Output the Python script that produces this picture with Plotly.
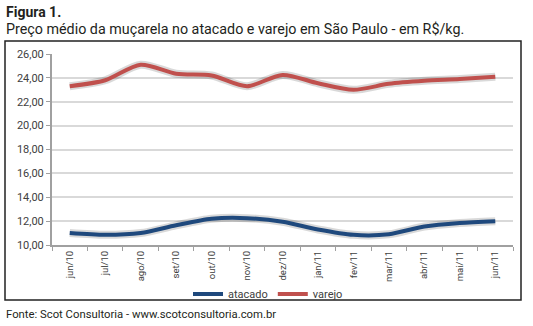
import plotly.graph_objects as go

meses = ["jun/10", "jul/10", "ago/10", "set/10", "out/10", "nov/10", "dez/10",
         "jan/11", "fev/11", "mar/11", "abr/11", "mai/11", "jun/11"]
atacado = [11.0, 10.85, 11.0, 11.65, 12.2, 12.25, 11.95, 11.3, 10.85, 10.9, 11.55, 11.85, 12.0]
varejo = [23.3, 23.8, 25.1, 24.35, 24.2, 23.3, 24.25, 23.55, 23.0, 23.5, 23.75, 23.9, 24.1]

W, H = 533, 326
L, R, T, B = 52, 20, 54, 81
pw, ph = W - L - R, H - T - B

def px(x):
    return (x - L) / pw

def py(y):
    return (H - B - y) / ph

FONT = "Roboto"

fig = go.Figure()
for name, vals, col in [("atacado", atacado, "#1F497D"), ("varejo", varejo, "#C0504D")]:
    fig.add_trace(go.Scatter(x=meses, y=vals, mode="lines", showlegend=False, hoverinfo="skip",
                             line=dict(color="rgba(0,0,0,0.15)", width=8, shape="spline", smoothing=0.8)))
    fig.add_trace(go.Scatter(x=meses, y=vals, mode="lines", name=name,
                             line=dict(color=col, width=4, shape="spline", smoothing=0.8)))

fig.update_layout(
    width=W, height=H,
    margin=dict(l=L, r=R, t=T, b=B),
    paper_bgcolor="white", plot_bgcolor="white",
    separators=",.",
    font=dict(family=FONT, color="#404040"),
    xaxis=dict(type="category", tickson="boundaries", ticks="outside", ticklen=4,
               tickcolor="#A0A0A0", showline=True, linecolor="#A0A0A0", linewidth=2,
               tickangle=-90, tickfont=dict(size=9.5, color="#404040"), showgrid=False,
               range=[-0.5, 12.5]),
    yaxis=dict(range=[10, 26], dtick=2, tickformat=".2f", ticks="outside", ticklen=4,
               tickcolor="#A0A0A0", showline=True, linecolor="#A0A0A0", linewidth=2,
               gridcolor="#D9D9D9", gridwidth=1.5, tickfont=dict(size=11, color="#404040"),
               zeroline=False),
    legend=dict(orientation="h", x=px(268), xanchor="center", y=py(294), yanchor="middle",
                font=dict(size=11, color="#404040"), itemwidth=30, tracegroupgap=0,
                bgcolor="rgba(0,0,0,0)"),
    shapes=[dict(type="rect", xref="paper", yref="paper", x0=px(5), x1=px(521),
                 y0=py(300), y1=py(41), line=dict(color="#222222", width=1.5),
                 fillcolor="rgba(0,0,0,0)", layer="below")],
    annotations=[
        dict(text="<b>Figura 1.</b>", xref="paper", yref="paper", x=px(4), y=py(12),
             xanchor="left", yanchor="middle", showarrow=False,
             font=dict(size=14, color="#231F20", family=FONT)),
        dict(text="Preço médio da muçarela no atacado e varejo em São Paulo - em R$/kg.",
             xref="paper", yref="paper", x=px(4), y=py(29), xanchor="left", yanchor="middle",
             showarrow=False, font=dict(size=14.3, color="#231F20", family=FONT)),
        dict(text="Fonte: Scot Consultoria - www.scotconsultoria.com.br",
             xref="paper", yref="paper", x=px(4), y=py(314), xanchor="left", yanchor="middle",
             showarrow=False, font=dict(size=11.3, color="#231F20", family=FONT)),
    ],
)

fig.write_html("out.html")
